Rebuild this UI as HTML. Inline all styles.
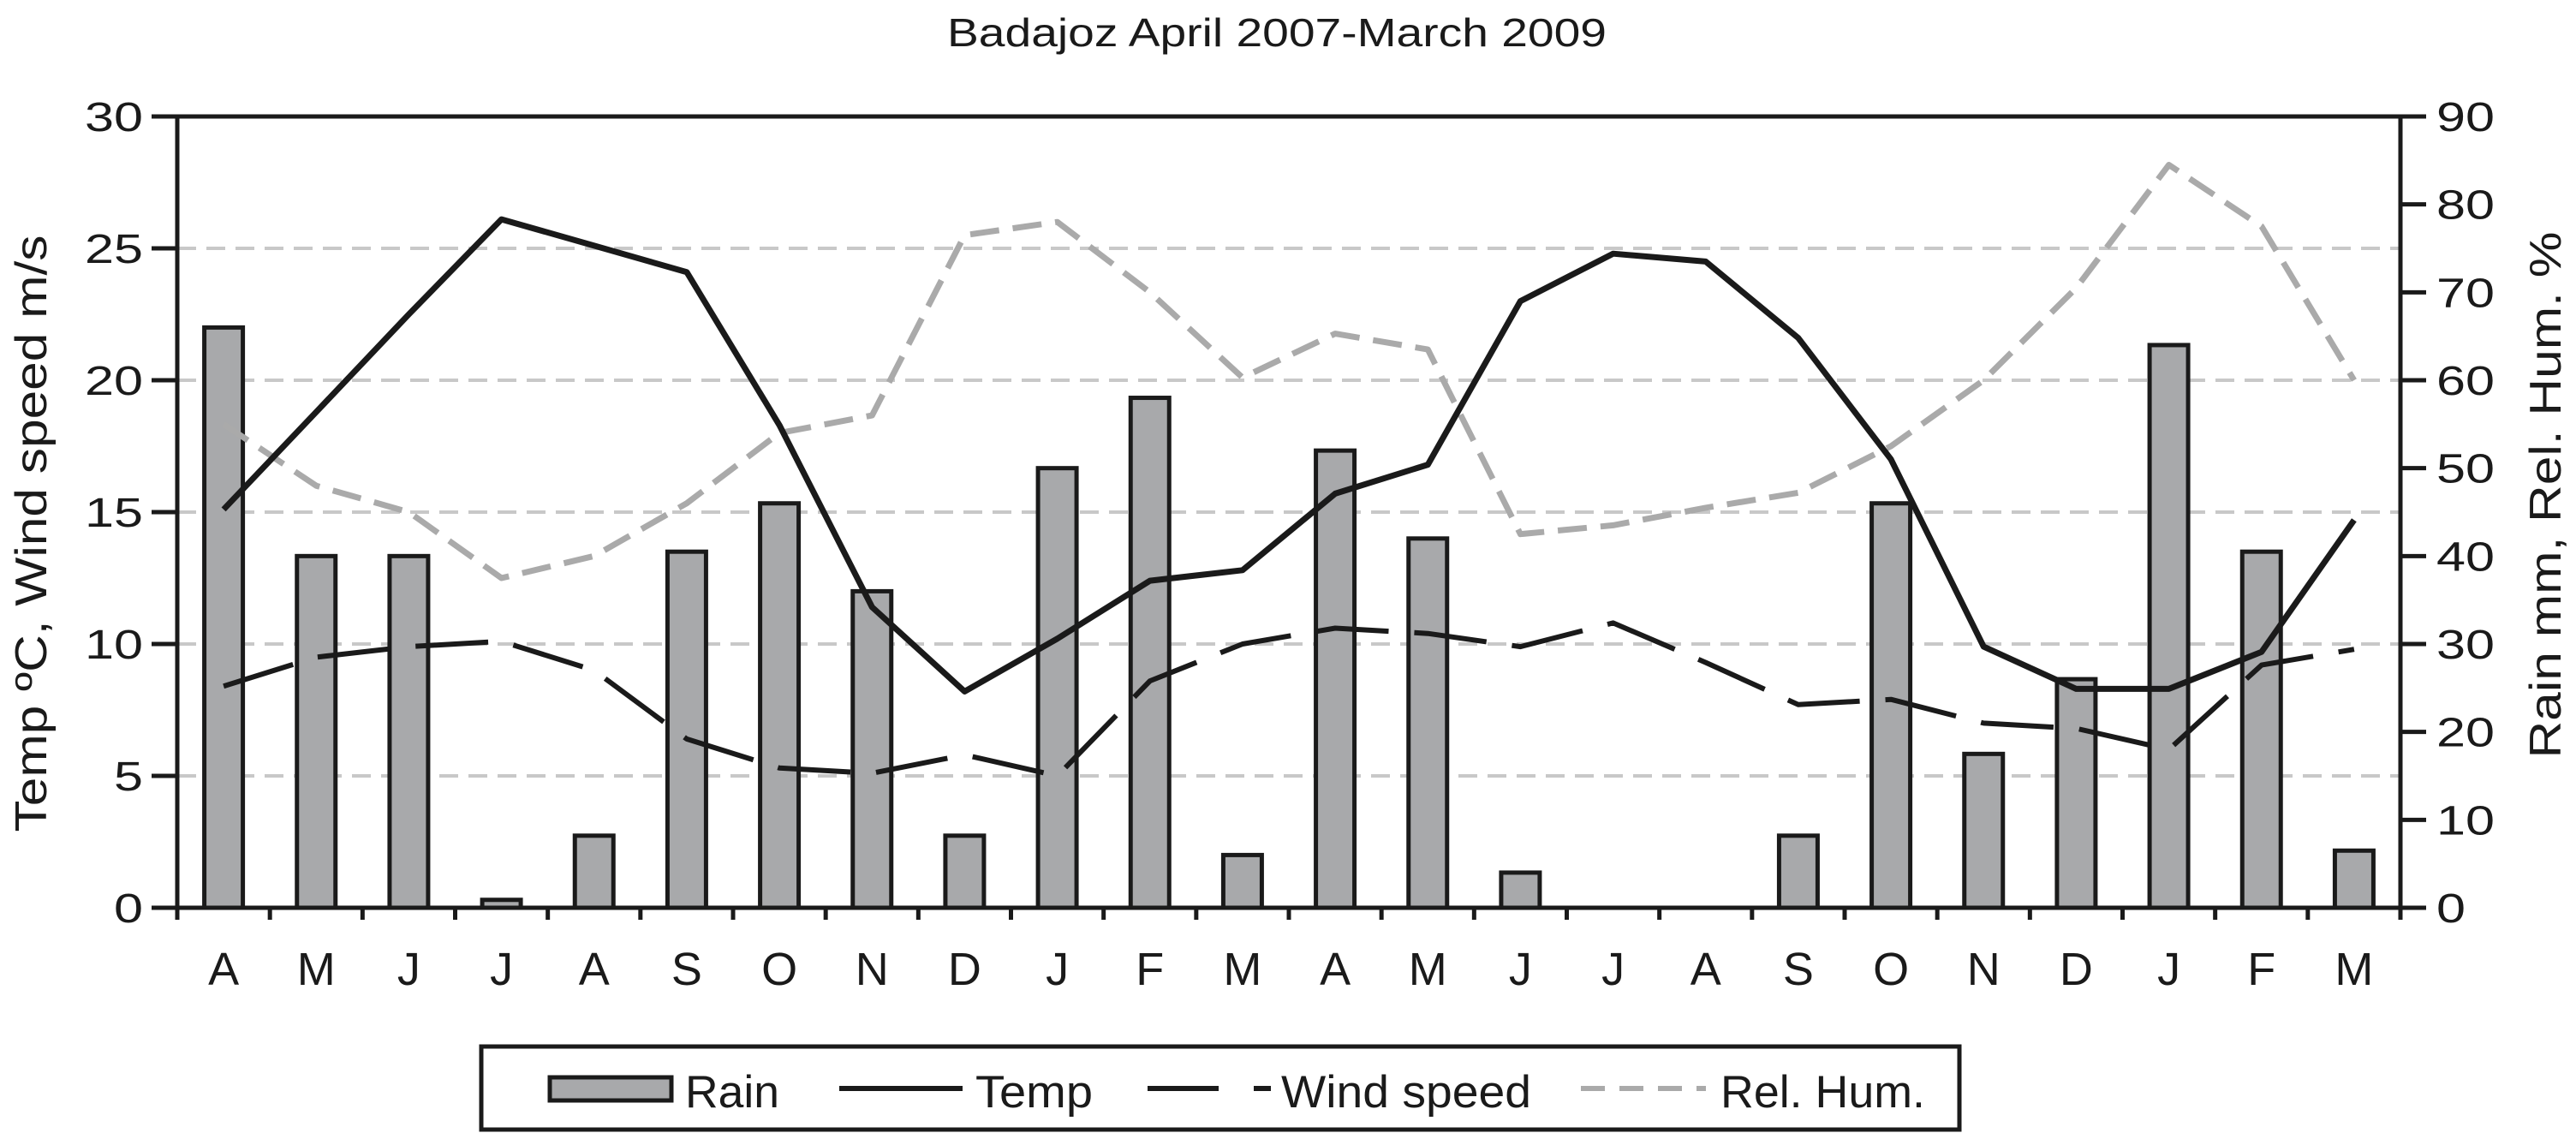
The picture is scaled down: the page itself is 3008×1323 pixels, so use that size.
<!DOCTYPE html>
<html><head><meta charset="utf-8"><style>
html,body{margin:0;padding:0;background:#fff;}
svg{display:block;}
text{font-family:"Liberation Sans",sans-serif;fill:#1a1a1a;}
</style></head><body>
<svg id="chart" width="3008" height="1323" viewBox="0 0 3008 1323" xmlns="http://www.w3.org/2000/svg">
<text x="1491" y="54" font-size="46" text-anchor="middle" textLength="770" lengthAdjust="spacingAndGlyphs">Badajoz April 2007-March 2009</text>
<g id="grid"></g>
<g id="bars"></g>
<g id="lines"></g>
<g id="axes"></g>
<text transform="translate(54,623) rotate(-90)" font-size="52" text-anchor="middle" textLength="697" lengthAdjust="spacingAndGlyphs">Temp ºC, Wind speed m/s</text>
<text transform="translate(2990,578) rotate(-90)" font-size="52" text-anchor="middle" textLength="615" lengthAdjust="spacingAndGlyphs">Rain mm, Rel. Hum. %</text>
<g>
<rect x="562" y="1222" width="1726" height="97" fill="#fff" stroke="#1a1a1a" stroke-width="5"/>
<rect x="642" y="1258" width="142" height="27" fill="#a8a9ab" stroke="#1a1a1a" stroke-width="5"/>
<text x="800" y="1293" font-size="53" textLength="110" lengthAdjust="spacingAndGlyphs">Rain</text>
<line x1="980" y1="1271" x2="1124" y2="1271" stroke="#1a1a1a" stroke-width="6"/>
<text x="1139" y="1293" font-size="53" textLength="137" lengthAdjust="spacingAndGlyphs">Temp</text>
<line x1="1340" y1="1271" x2="1423" y2="1271" stroke="#1a1a1a" stroke-width="6"/>
<line x1="1464" y1="1271" x2="1484" y2="1271" stroke="#1a1a1a" stroke-width="6"/>
<text x="1496" y="1293" font-size="53" textLength="292" lengthAdjust="spacingAndGlyphs">Wind speed</text>
<line x1="1846" y1="1271" x2="1992" y2="1271" stroke="#aaaaaa" stroke-width="6" stroke-dasharray="28,17"/>
<text x="2009" y="1293" font-size="53" textLength="239" lengthAdjust="spacingAndGlyphs">Rel. Hum.</text>
</g>
</svg>
<script>
const months = ["A","M","J","J","A","S","O","N","D","J","F","M","A","M","J","J","A","S","O","N","D","J","F","M"];
const rain = [66,40,40,0.9,8.2,40.5,46,36,8.2,50,58,6,52,42,4,0,0,8.2,46,17.5,26,64,40.5,6.5];
const temp = [15.1,18.8,22.5,26.1,25.1,24.1,18.3,11.4,8.2,10.2,12.4,12.8,15.7,16.8,23,24.8,24.5,21.6,17,9.9,8.3,8.3,9.7,14.7];
const wind = [8.4,9.5,9.9,10.1,9.0,6.4,5.3,5.1,5.8,5.0,8.6,10.0,10.6,10.4,9.9,10.8,9.3,7.7,7.9,7.0,6.8,6.0,9.2,9.8];
const relHum = [55,48,45,37.5,40,46,54,56,76.5,78,70,60.3,65.3,63.5,42.5,43.5,45.5,47.2,52.5,60,70.5,84.5,77.5,60];
const leftTicks = ["0","5","10","15","20","25","30"];
const rightTicks = ["0","10","20","30","40","50","60","70","80","90"];

const NS="http://www.w3.org/2000/svg";
const X0=207,X1=2803,YT=136,YB=1060;
const band=(X1-X0)/months.length;
function xc(i){return X0+band*(i+0.5);}
function yL(v){return YB-(v/30)*(YB-YT);}
function yR(v){return YB-(v/90)*(YB-YT);}
function mk(tag,attrs,parent){const e=document.createElementNS(NS,tag);for(const k in attrs)e.setAttribute(k,attrs[k]);parent.appendChild(e);return e;}
const grid=document.getElementById('grid'),bars=document.getElementById('bars'),lines=document.getElementById('lines'),axes=document.getElementById('axes');

for(let v=5;v<30;v+=5){
  const g=mk('line',{x1:X0,x2:X1,y1:yL(v),y2:yL(v),stroke:'#c8c8c8','stroke-width':4,'stroke-dasharray':'22,12'},grid);
  
  
}
rain.forEach((v,i)=>{
  const w=45;
  const r=mk('rect',{x:xc(i)-w/2,y:yR(v),width:w,height:YB-yR(v),fill:'#a8a9ab',stroke:'#1a1a1a','stroke-width':5},bars);
  
  
});
function path(arr,fy){return arr.map((v,i)=>(i?'L':'M')+xc(i).toFixed(1)+','+fy(v).toFixed(1)).join(' ');}
const rh=mk('path',{d:path(relHum,yR),fill:'none',stroke:'#aaaaaa','stroke-width':7,'stroke-dasharray':'34,16','stroke-linejoin':'round'},lines);


const wl=mk('path',{d:path(wind,yL),fill:'none',stroke:'#1a1a1a','stroke-width':6,'stroke-dasharray':'85,30','stroke-linejoin':'round'},lines);


const tl=mk('path',{d:path(temp,yL),fill:'none',stroke:'#1a1a1a','stroke-width':7,'stroke-linejoin':'round'},lines);



const frame=mk('path',{d:`M${X0},${YT} L${X1},${YT} M${X0},${YT-2} L${X0},${YB+14} M${X1},${YT-2} L${X1},${YB+14} M${X0-30},${YB} L${X1+30},${YB}`,stroke:'#1a1a1a','stroke-width':5,fill:'none'},axes);


leftTicks.forEach((t,i)=>{
  const v=i*5;
  mk('line',{x1:X0-30,x2:X0,y1:yL(v),y2:yL(v),stroke:'#1a1a1a','stroke-width':5},axes);
  const tx=mk('text',{x:167,y:yL(v)+17,'font-size':48,'text-anchor':'end',textLength:t.length*34,lengthAdjust:'spacingAndGlyphs'},axes);
  tx.textContent=t;
  
  
});
rightTicks.forEach((t,i)=>{
  const v=i*10;
  mk('line',{x1:X1,x2:X1+30,y1:yR(v),y2:yR(v),stroke:'#1a1a1a','stroke-width':5},axes);
  const tx=mk('text',{x:2845,y:yR(v)+17,'font-size':48,textLength:t.length*34,lengthAdjust:'spacingAndGlyphs'},axes);
  tx.textContent=t;
  
  
});
for(let i=1;i<months.length;i++){
  const x=X0+band*i;
  mk('line',{x1:x,x2:x,y1:YB,y2:YB+14,stroke:'#1a1a1a','stroke-width':5},axes);
}
months.forEach((m,i)=>{
  const tx=mk('text',{x:xc(i),y:1150,'font-size':54,'text-anchor':'middle'},axes);
  tx.textContent=m;
  
  
});
</script>
</body></html>
